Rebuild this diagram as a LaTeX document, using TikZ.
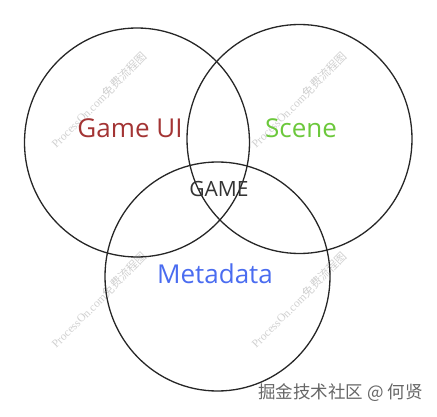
\documentclass[tikz,border=0pt]{standalone}
\usepackage{fontspec}
\setmainfont{Open Sans}
\newfontfamily\wmlatin{Liberation Serif}
\newfontfamily\cjkfont{Noto Sans CJK SC}
\usetikzlibrary{shapes.geometric}

\definecolor{uired}{RGB}{163,52,52}
\definecolor{scenegreen}{RGB}{108,200,60}
\definecolor{metablue}{RGB}{74,108,240}
\definecolor{gamegray}{RGB}{51,51,51}
\definecolor{markgray}{RGB}{208,208,208}

\tikzset{
  setring/.style={draw=black!85, line width=1.3pt, ellipse,
    minimum width=225pt, minimum height=229pt, inner sep=0pt},
  setlabel/.style={anchor=base, inner sep=0pt, font=\fontsize{26}{30}\selectfont},
  watermark/.style={rotate=45, text=markgray, inner sep=0pt,
    font=\fontsize{11.5}{13}\selectfont}
}

\begin{document}
\begin{tikzpicture}[x=1pt, y=1pt]
  \useasboundingbox (0,0) rectangle (437,416);
  % Watermarks
  \node[watermark] (wm1) at (99,316) {\wmlatin ProcessOn.com\cjkfont 免费流程图};
  \node[watermark] (wm2) at (299,316) {\wmlatin ProcessOn.com\cjkfont 免费流程图};
  \node[watermark] (wm3) at (99,116) {\wmlatin ProcessOn.com\cjkfont 免费流程图};
  \node[watermark] (wm4) at (299,116) {\wmlatin ProcessOn.com\cjkfont 免费流程图};
  % Sets
  \node[setring] (gameui) at (137,273.5) {};
  \node[setring] (scene)  at (299.5,277) {};
  \node[setring] (meta)   at (217.5,139.5) {};
  % Labels
  \node[setlabel, text=uired]      (gameuitext) at (130,278) {Game UI};
  \node[setlabel, text=scenegreen] (scenetext)  at (301,278) {Scene};
  \node[setlabel, text=metablue]   (metatext)   at (215,133) {Metadata};
  \node[anchor=base, inner sep=0pt, text=gamegray,
        font=\fontsize{21}{24}\selectfont] (core) at (219,220) {GAME};
  % Credit
  \node[text=black!60, inner sep=0pt, font=\cjkfont\fontsize{17.5}{19}\selectfont]
    (credit) at (340.5,23) {掘金技术社区 @ 何贤};
\end{tikzpicture}
\end{document}
